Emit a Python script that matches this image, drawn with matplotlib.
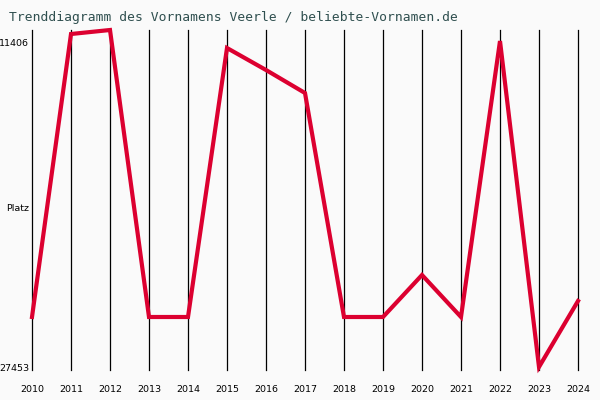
import matplotlib
matplotlib.use("Agg")
from matplotlib import pyplot as plt

# rank of the name per year (lower = more popular)
years = [2010, 2011, 2012, 2013, 2014, 2015, 2016, 2017,
         2018, 2019, 2020, 2021, 2022, 2023, 2024]
ranks = [24984, 11011, 10813, 24984, 24984, 11702, 12788, 13924,
         24984, 24984, 22910, 24984, 11357, 27453, 24194]

ytick_vals = [11406, 19602, 27453]
ytick_labels = ["11406", "Platz", "27453"]

title = "Trenddiagramm des Vornamens Veerle / beliebte-Vornamen.de"

bg = "#fafafa"
red = "#dc0030"

fig = plt.figure(figsize=(6, 4), dpi=100, facecolor=bg)
ax = fig.add_axes([32 / 600, 1 - 370 / 400, 546 / 600, 340 / 400])
ax.set_facecolor(bg)

# vertical year lines
for yr in years:
    ax.axvline(yr, color="black", lw=0.9, zorder=1, clip_on=False)

ax.plot(years, ranks, color=red, lw=3.0, solid_joinstyle="miter", zorder=3,
        clip_on=False)

ax.set_xlim(years[0], years[-1])
ax.set_ylim(27601, 10813)

for s in ax.spines.values():
    s.set_visible(False)

ax.set_xticks(years)
ax.set_xticklabels([str(y) for y in years], fontsize=6.8, family="DejaVu Sans")
ax.set_yticks(ytick_vals)
ax.set_yticklabels(ytick_labels, fontsize=6.8, family="DejaVu Sans")
ax.tick_params(axis="x", length=0, pad=11)
ax.tick_params(axis="y", length=0, pad=2)

fig.text(9 / 600, 1 - 18 / 400, title, family="DejaVu Sans Mono", fontsize=9.4,
         color="#2f4f4f", va="center", ha="left")

fig.savefig("out.png", dpi=100, facecolor=bg)
